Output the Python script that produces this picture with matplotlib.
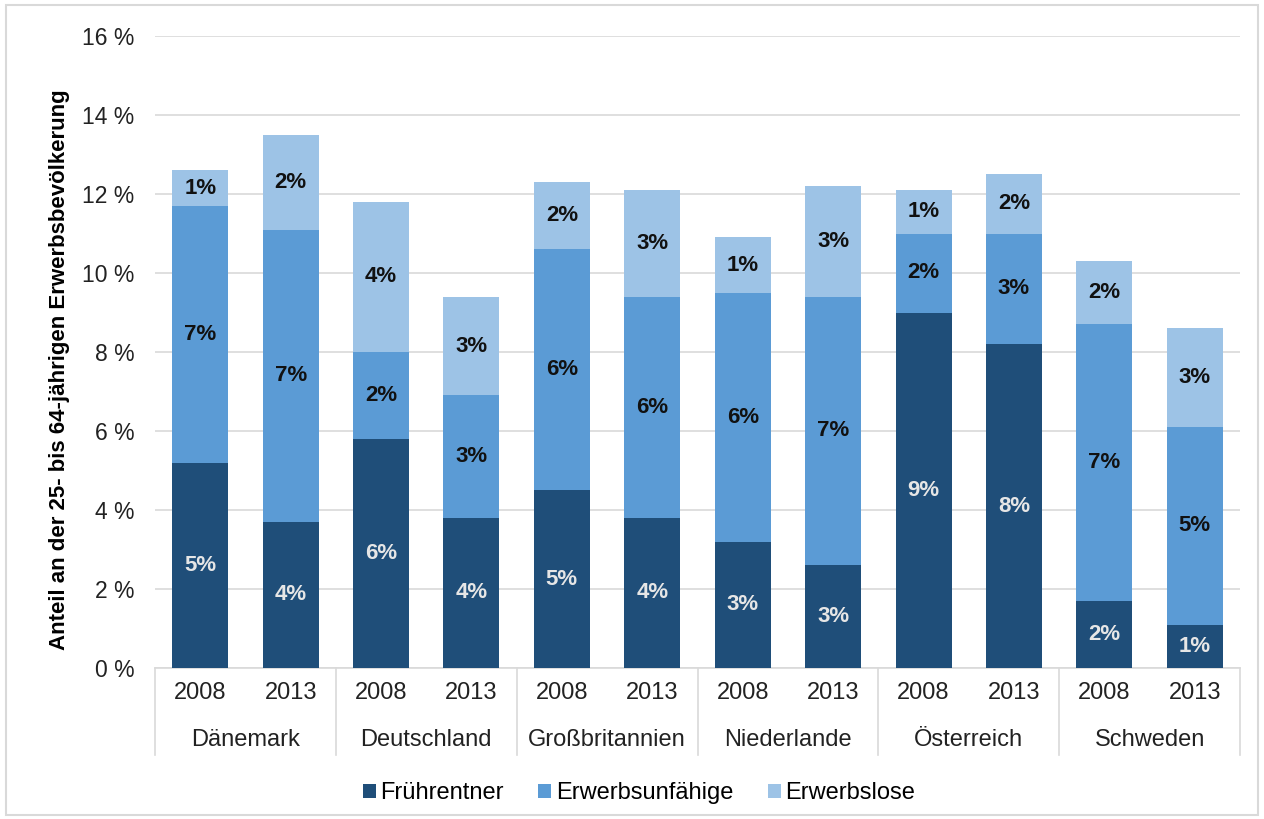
import numpy as np
import matplotlib.pyplot as plt
from matplotlib.patches import Rectangle
import math

plt.rcParams['font.family'] = ['Liberation Sans', 'DejaVu Sans']

# Daten
countries = ["Dänemark", "Deutschland", "Großbritannien", "Niederlande", "Österreich", "Schweden"]
years = ["2008", "2013"]
fruehrentner = [5.2, 3.7, 5.8, 3.8, 4.5, 3.8, 3.2, 2.6, 9.0, 8.2, 1.7, 1.1]
erwerbsunfaehige = [6.5, 7.4, 2.2, 3.1, 6.1, 5.6, 6.3, 6.8, 2.0, 2.8, 7.0, 5.0]
erwerbslose = [0.9, 2.4, 3.8, 2.5, 1.7, 2.7, 1.4, 2.8, 1.1, 1.5, 1.6, 2.5]
series_names = ["Frührentner", "Erwerbsunfähige", "Erwerbslose"]
colors = ["#1f4e79", "#5b9bd5", "#9dc3e6"]

fig = plt.figure(figsize=(12.64, 8.19), dpi=100)
ax = fig.add_axes([155/1264, 1 - 668/819, 1085/1264, 632/819])

x = np.arange(len(fruehrentner))
bottom = np.zeros(len(x))
series = [fruehrentner, erwerbsunfaehige, erwerbslose]
for i, (vals, name, col) in enumerate(zip(series, series_names, colors)):
    vals = np.array(vals)
    ax.bar(x, vals, 0.62, bottom=bottom, color=col, label=name, zorder=3)
    for xi, v, b in zip(x, vals, bottom):
        txt = f"{math.floor(v + 0.5)}%"
        tc = "#e6e6e6" if i == 0 else "#111111"
        ax.text(xi, b + v / 2, txt, ha="center", va="center", fontsize=16,
                fontweight="bold", color=tc, zorder=4)
    bottom = bottom + vals

ax.set_xlim(-0.5, len(x) - 0.5)
ax.set_ylim(0, 16)
ax.set_yticks(np.arange(0, 17, 2))
ax.set_yticklabels([f"{t} %" for t in range(0, 17, 2)], fontsize=16.5, color="#222222")
ax.tick_params(axis="y", length=0, pad=15)
ax.set_xticks([])
ax.grid(axis="y", color="#d9d9d9", linewidth=1.2, zorder=0)
for s in ["top", "right", "left"]:
    ax.spines[s].set_visible(False)
ax.spines["bottom"].set_color("#d9d9d9")
ax.spines["bottom"].set_linewidth(1.2)

ax.set_ylabel("Anteil an der 25- bis 64-jährigen Erwerbsbevölkerung", fontsize=16,
              fontweight="bold")
ax.yaxis.set_label_coords(-0.078, 0.472)

# Kategorienachse (zweistufig)
trans = ax.get_xaxis_transform()
for xi in x:
    ax.text(xi, -25/632, years[xi % 2], transform=trans, ha="center", va="center",
            fontsize=17, color="#222222")
for g, name in enumerate(countries):
    ax.text(2 * g + 0.5, -72/632, name, transform=trans, ha="center", va="center",
            fontsize=17, color="#222222")
for g in range(len(countries) + 1):
    ax.plot([2 * g - 0.5, 2 * g - 0.5], [0, -87/632], transform=trans, color="#d9d9d9",
            linewidth=1.2, clip_on=False)

leg = fig.legend(loc="center", bbox_to_anchor=(639/1264, 1 - 793/819), ncol=3, frameon=False,
                 fontsize=17, handlelength=0.55, handleheight=0.55, handletextpad=0.2,
                 columnspacing=1.45)

fig.patches.append(Rectangle((6/1264, 4/819), 1252/1264, 810/819, transform=fig.transFigure,
                             fill=False, edgecolor="#d9d9d9", linewidth=1.5))

fig.savefig("out.png", dpi=100)
